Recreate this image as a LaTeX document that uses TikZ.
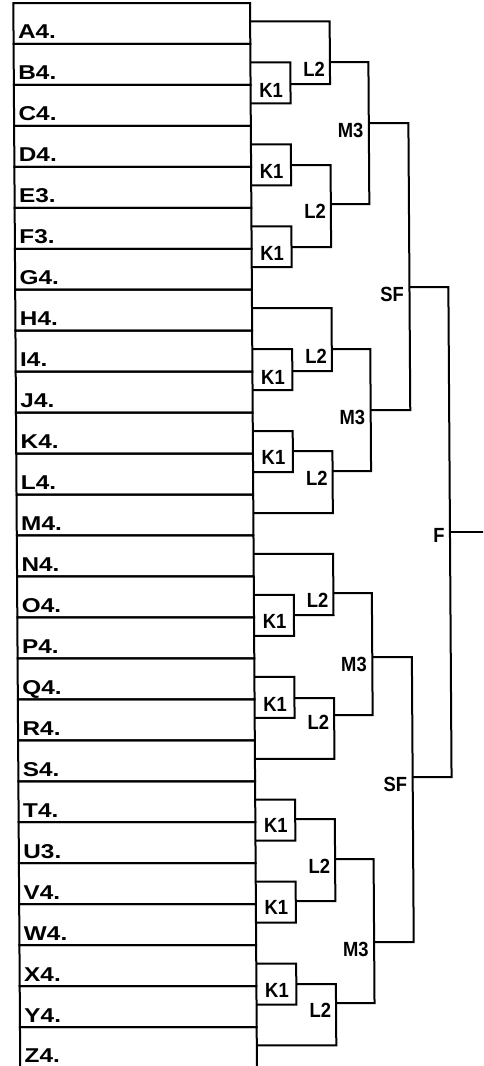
\documentclass[tikz,border=0pt]{standalone}
\usepackage{fontspec}
\setmainfont{Liberation Sans}
\newfontfamily\rowfont{Liberation Sans}[FakeStretch=1.22]
\newfontfamily\labfont{Liberation Sans}[FakeStretch=0.9]
\usetikzlibrary{calc}
\tikzset{
  rowbox/.style={draw, rectangle, line width=2pt, minimum width=236.7pt, minimum height=40.96pt, inner sep=0pt, outer sep=0pt},
  rowtext/.style={inner sep=0pt, outer sep=0pt, font=\rowfont\bfseries\fontsize{20}{22}\selectfont, anchor=base west},
  lab/.style={inner sep=0pt, outer sep=0pt, font=\labfont\bfseries\fontsize{20.5}{22}\selectfont},
  klab/.style={lab, anchor=base},
  rlab/.style={lab, anchor=base east},
  bracket/.style={draw, line width=2pt},
}
\begin{document}
\begin{tikzpicture}[x=1pt,y=-1pt]
\useasboundingbox (0,0) rectangle (483,1066);
\fill[white] (0,0) rectangle (483,1066);
\clip (0,0) rectangle (483,1066);
\begin{scope}[xslant=-0.0065, transform shape]
\foreach \n/\t [count=\i from 0] in {A/A4.,B/B4.,C/C4.,D/D4.,E/E3.,F/F3.,G/G4.,H/H4.,I/I4.,J/J4.,K/K4.,L/L4.,M/M4.,N/N4.,O/O4.,P/P4.,Q/Q4.,R/R4.,S/S4.,T/T4.,U/U3.,V/V4.,W/W4.,X/X4.,Y/Y4.,Z/Z4.}{
  \node[rowbox] (r\n) at (131.65,{23.48+40.96*\i}) {};
  \node[rowtext] (t\n) at ($(r\n.south west)+(4.5,-5)$) {\t};
  \coordinate (p\n) at ([yshift=2pt]r\n.east);
}
% K1 junctions
\coordinate (k1) at (289.9,84);
\coordinate (k2) at (289.9,165);
\coordinate (k3) at (289.9,247);
\coordinate (k4) at (289.9,371);
\coordinate (k5) at (289.9,451);
\coordinate (k6) at (289.9,615);
\coordinate (k7) at (289.9,698);
\coordinate (k8) at (289.9,819);
\coordinate (k9) at (289.9,901);
\coordinate (k10) at (289.9,984);
% L2 junctions
\coordinate (l1) at (329.5,62);
\coordinate (l2) at (329.5,204);
\coordinate (l3) at (329.5,349);
\coordinate (l4) at (329.5,471);
\coordinate (l5) at (329.5,593);
\coordinate (l6) at (329.5,715);
\coordinate (l7) at (329.5,859);
\coordinate (l8) at (329.5,1003);
% M3 junctions
\coordinate (m1) at (368,123);
\coordinate (m2) at (368,410);
\coordinate (m3) at (368,657);
\coordinate (m4) at (368,942);
% SF and F
\coordinate (s1) at (407.6,287);
\coordinate (s2) at (407.6,777);
\coordinate (f) at (446.5,532);
\coordinate (fend) at (520,532);

% K1 brackets
\draw[bracket] (pB) -| (k1) |- (pC);
\draw[bracket] (pD) -| (k2) |- (pE);
\draw[bracket] (pF) -| (k3) |- (pG);
\draw[bracket] (pI) -| (k4) |- (pJ);
\draw[bracket] (pK) -| (k5) |- (pL);
\draw[bracket] (pO) -| (k6) |- (pP);
\draw[bracket] (pQ) -| (k7) |- (pR);
\draw[bracket] (pT) -| (k8) |- (pU);
\draw[bracket] (pV) -| (k9) |- (pW);
\draw[bracket] (pX) -| (k10) |- (pY);
% L2 brackets
\draw[bracket] (pA) -| (l1) |- (k1);
\draw[bracket] (k2) -| (l2) |- (k3);
\draw[bracket] (pH) -| (l3) |- (k4);
\draw[bracket] (k5) -| (l4) |- (pM);
\draw[bracket] (pN) -| (l5) |- (k6);
\draw[bracket] (k7) -| (l6) |- (pS);
\draw[bracket] (k8) -| (l7) |- (k9);
\draw[bracket] (k10) -| (l8) |- (pZ);
% M3 brackets
\draw[bracket] (l1) -| (m1) |- (l2);
\draw[bracket] (l3) -| (m2) |- (l4);
\draw[bracket] (l5) -| (m3) |- (l6);
\draw[bracket] (l7) -| (m4) |- (l8);
% SF brackets
\draw[bracket] (m1) -| (s1) |- (m2);
\draw[bracket] (m3) -| (s2) |- (m4);
% F bracket
\draw[bracket] (s1) -| (f) |- (s2);
\draw[bracket] (f) -- (fend);

% labels
\node[klab] (K1a) at (270.5,97) {K1};
\node[klab] (K1b) at (270.5,178) {K1};
\node[klab] (K1c) at (270.5,260) {K1};
\node[klab] (K1d) at (270.5,384) {K1};
\node[klab] (K1e) at (270.5,464) {K1};
\node[klab] (K1f) at (270.5,628) {K1};
\node[klab] (K1g) at (270.5,711) {K1};
\node[klab] (K1h) at (270.5,832) {K1};
\node[klab] (K1i) at (270.5,914) {K1};
\node[klab] (K1j) at (270.5,997) {K1};
\node[rlab] (L2a) at (324.5,76) {L2};
\node[rlab] (L2b) at (324.5,218) {L2};
\node[rlab] (L2c) at (324.5,363) {L2};
\node[rlab] (L2d) at (324.5,485) {L2};
\node[rlab] (L2e) at (324.5,607) {L2};
\node[rlab] (L2f) at (324.5,729) {L2};
\node[rlab] (L2g) at (324.5,873) {L2};
\node[rlab] (L2h) at (324.5,1017) {L2};
\node[rlab] (M3a) at (362.5,137) {M3};
\node[rlab] (M3b) at (362.5,424) {M3};
\node[rlab] (M3c) at (362.5,671) {M3};
\node[rlab] (M3d) at (362.5,956) {M3};
\node[rlab] (SFa) at (402,301) {SF};
\node[rlab] (SFb) at (402,791) {SF};
\node[rlab] (Fl) at (441,542) {F};
\end{scope}
\end{tikzpicture}
\end{document}
